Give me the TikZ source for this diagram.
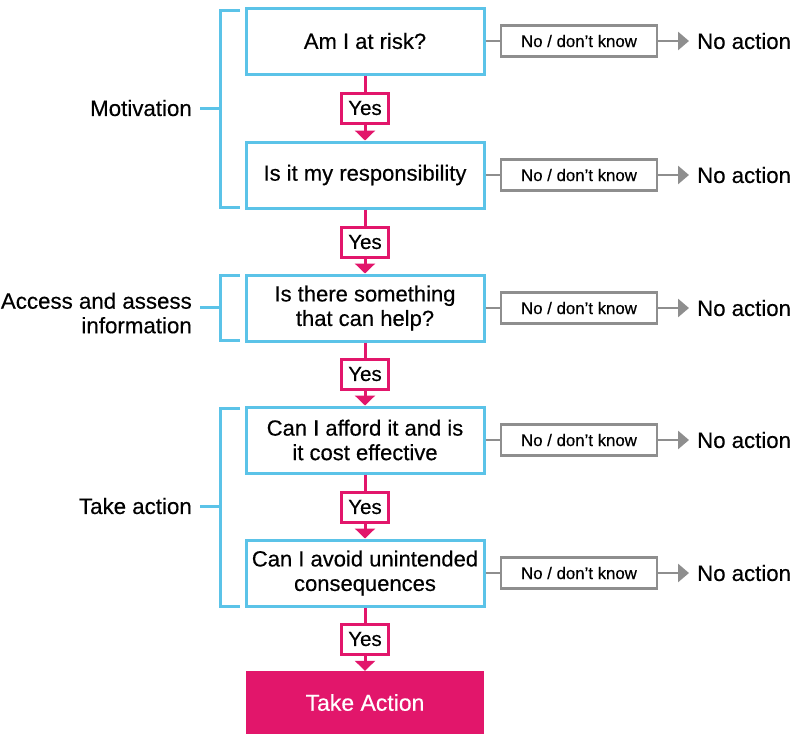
\documentclass[tikz,border=0pt]{standalone}
\usepackage{fontspec}
\setmainfont{Liberation Sans}[FakeBold=0.4]
\usetikzlibrary{arrows.meta}
\definecolor{qblue}{HTML}{5BC3E8}
\definecolor{qpink}{HTML}{E2166B}
\definecolor{qgray}{HTML}{8E8E8E}
\tikzset{
  qbox/.style={draw=qblue, line width=3pt, minimum width=238pt, minimum height=66pt, inner sep=0pt, align=center, font=\fontsize{22}{24.5}\selectfont},
  yesbox/.style={draw=qpink, fill=white, line width=3pt, minimum width=47pt, minimum height=30pt, inner sep=0pt, font=\fontsize{20.5}{24}\selectfont},
  nobox/.style={draw=qgray, line width=2.8pt, minimum width=156pt, minimum height=31pt, inner sep=0pt, font=\fontsize{16.8}{19}\selectfont},
  noact/.style={anchor=west, inner sep=0pt, font=\fontsize{22.2}{25}\selectfont},
  sidelbl/.style={anchor=east, inner sep=0pt, align=right, font=\fontsize{22.3}{24.5}\selectfont},
  pinkline/.style={draw=qpink, line width=3pt},
  pinkarrow/.style={pinkline, -{Triangle[width=20pt,length=10pt]}},
  grayline/.style={draw=qgray, line width=2.8pt},
  grayarrow/.style={grayline, -{Triangle[width=18pt,length=11pt]}},
  bracket/.style={draw=qblue, line width=3pt},
  final/.style={fill=qpink, minimum width=238pt, minimum height=63pt, inner sep=0pt, text=white, font=\fontsize{23}{25}\selectfont}
}
\begin{document}
\begin{tikzpicture}[x=1pt,y=-1pt]
\useasboundingbox (0,0) rectangle (797,734);
% questions
\node[qbox] (q1) at (365,41) {Am I at risk?};
\node[qbox] (q2) at (365,175) {Is it my responsibility};
\node[qbox] (q3) at (365,308) {Is there something\\that can help?};
\node[qbox] (q4) at (365,440) {Can I afford it and is\\it cost effective};
\node[qbox] (q5) at (365,573) {Can I avoid unintended\\consequences};
\node[final] (ta) at (365,702.5) {Take Action};
% yes labels
\node[yesbox] (y1) at (365,108) {Yes};
\node[yesbox] (y2) at (365,242) {Yes};
\node[yesbox] (y3) at (365,374) {Yes};
\node[yesbox] (y4) at (365,507) {Yes};
\node[yesbox] (y5) at (365,639) {Yes};
\draw[pinkline] (q1.south) -- (y1.north);
\draw[pinkarrow] (y1.south) -- (q2.north);
\draw[pinkline] (q2.south) -- (y2.north);
\draw[pinkarrow] (y2.south) -- (q3.north);
\draw[pinkline] (q3.south) -- (y3.north);
\draw[pinkarrow] (y3.south) -- (q4.north);
\draw[pinkline] (q4.south) -- (y4.north);
\draw[pinkarrow] (y4.south) -- (q5.north);
\draw[pinkline] (q5.south) -- (y5.north);
\draw[pinkarrow] (y5.south) -- (ta.north);
% no branches
\foreach \i/\y in {1/41,2/175,3/308,4/440,5/573}{
  \node[nobox] (n\i) at (579,\y) {No / don’t know};
  \coordinate (e\i) at (689,\y);
  \node[noact] (a\i) at (697,\y) {No action};
  \draw[grayline] (q\i.east) -- (n\i.west);
  \draw[grayarrow] (n\i.east) -- (e\i);
}
% brackets
\coordinate (m1) at (220,108);
\draw[bracket] (240,10) -- (220,10) -- (220,207) -- (240,207);
\draw[bracket] (200,108) -- (m1);
\node[sidelbl] (l1) at (192,108) {Motivation};
\draw[bracket] (240,275) -- (220,275) -- (220,340) -- (240,340);
\draw[bracket] (200,307) -- (220,307);
\node[sidelbl] (l2) at (192,313) {Access and assess\\information};
\draw[bracket] (240,408) -- (220,408) -- (220,606) -- (240,606);
\draw[bracket] (200,506) -- (220,506);
\node[sidelbl] (l3) at (192,506) {Take action};
\end{tikzpicture}
\end{document}
